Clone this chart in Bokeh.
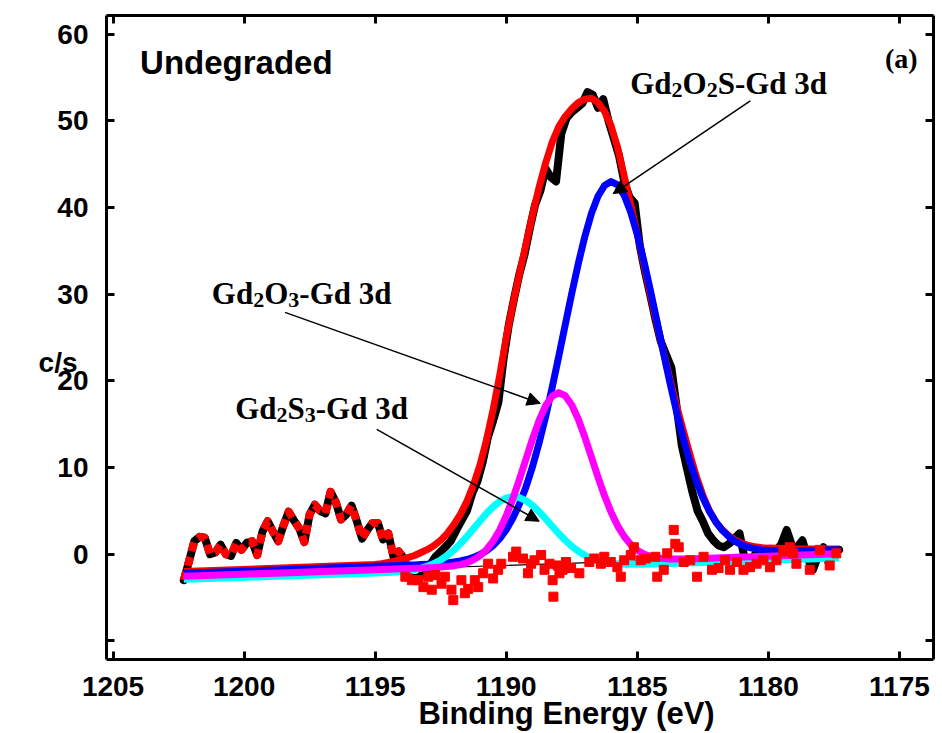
from bokeh.plotting import figure
from bokeh.models import Range1d, LinearAxis, FixedTicker, Label, Arrow, NormalHead
from bokeh.embed import file_html
from bokeh.resources import INLINE

# ---- Gd 3d XPS spectrum (undegraded sample) ----
energy = [
    1202.3, 1202.1, 1201.9, 1201.7, 1201.5, 1201.3, 1201.1, 1200.9, 1200.7, 1200.5,
    1200.3, 1200.1, 1199.9, 1199.7, 1199.5, 1199.3, 1199.1, 1198.9, 1198.7, 1198.5,
    1198.3, 1198.1, 1197.9, 1197.7, 1197.5, 1197.3, 1197.1, 1196.9, 1196.7, 1196.5,
    1196.3, 1196.1, 1195.9, 1195.7, 1195.5, 1195.3, 1195.1, 1194.9, 1194.7, 1194.5,
    1194.3, 1194.1, 1193.9, 1193.7, 1193.5, 1193.3, 1193.1, 1192.9, 1192.7, 1192.5,
    1192.3, 1192.1, 1191.9, 1191.7, 1191.5, 1191.3, 1191.1, 1190.9, 1190.7, 1190.5,
    1190.3, 1190.1, 1189.9, 1189.7, 1189.5, 1189.3, 1189.1, 1188.9, 1188.7, 1188.5,
    1188.3, 1188.1, 1187.9, 1187.7, 1187.5, 1187.3, 1187.1, 1186.9, 1186.7, 1186.5,
    1186.3, 1186.1, 1185.9, 1185.7, 1185.5, 1185.3, 1185.1, 1184.9, 1184.7, 1184.5,
    1184.3, 1184.1, 1183.9, 1183.7, 1183.5, 1183.3, 1183.1, 1182.9, 1182.7, 1182.5,
    1182.3, 1182.1, 1181.9, 1181.7, 1181.5, 1181.3, 1181.1, 1180.9, 1180.7, 1180.5,
    1180.3, 1180.1, 1179.9, 1179.7, 1179.5, 1179.3, 1179.1, 1178.9, 1178.7, 1178.5,
    1178.3, 1178.1, 1177.9, 1177.7, 1177.5, 1177.3,
]
counts = [
    -3.0, -0.8, 1.5, 2.0, 1.9, 0.0, 0.2, 1.1, 0.0, -0.2,
    1.3, 0.5, 1.3, 1.5, -0.1, 2.6, 3.8, 2.6, 1.5, 3.3,
    4.9, 3.9, 3.0, 1.4, 4.6, 5.7, 5.0, 4.7, 7.2, 6.0,
    4.0, 4.6, 5.6, 3.8, 1.8, 2.8, 3.6, 3.6, 1.7, 2.4,
    -0.3, 0.3, -0.5, -2.6, -2.8, -2.6, -2.0, -1.2, -0.3, 0.3,
    0.9, 1.6, 2.8, 3.9, 5.0, 7.0, 8.4, 10.6, 13.5, 15.4,
    17.5, 22.6, 26.5, 29.5, 32.3, 34.6, 37.6, 40.3, 41.9, 44.5,
    43.5, 43.0, 48.5, 50.3, 51.0, 51.5, 52.0, 53.3, 53.0, 51.5,
    52.5, 50.0, 48.0, 46.0, 43.0, 41.2, 40.5, 35.5, 32.5, 29.8,
    27.0, 24.5, 23.0, 21.5, 17.0, 12.5, 9.8, 7.2, 5.0, 3.8,
    2.4, 1.6, 1.0, 0.8, 1.2, 1.8, 2.4, -0.6, -1.0, 0.0,
    0.6, 0.3, 0.2, 0.4, 1.2, 2.8, 1.0, 0.8, 1.6, -0.5,
    -1.8, -0.2, 0.8, -1.0, 0.2, 0.5,
]

# ---- fitted components on the fit grid ----
fit_energy = [
    1202.3,
    1195.00, 1194.75, 1194.50, 1194.25, 1194.00, 1193.75, 1193.50, 1193.25, 1193.00, 1192.75,
    1192.50, 1192.25, 1192.00, 1191.75, 1191.50, 1191.25, 1191.00, 1190.75, 1190.50, 1190.25,
    1190.00, 1189.75, 1189.50, 1189.25, 1189.00, 1188.75, 1188.50, 1188.25, 1188.00, 1187.75,
    1187.50, 1187.25, 1187.00, 1186.75, 1186.50, 1186.25, 1186.00, 1185.75, 1185.50, 1185.25,
    1185.00, 1184.75, 1184.50, 1184.25, 1184.00, 1183.75, 1183.50, 1183.25, 1183.00, 1182.75,
    1182.50, 1182.25, 1182.00, 1181.75, 1181.50, 1181.25, 1181.00, 1180.75, 1180.50, 1180.25,
    1180.00,
    1179.0, 1177.3,
]
envelope = [
    -2.0,
    -1.2, -1.1, -0.95, -0.8, -0.6, -0.4, -0.15, 0.2, 0.55, 1.0,
    1.6, 2.4, 3.4, 4.6, 6.1, 8.0, 10.3, 13.2, 16.7, 20.6,
    25.0, 28.8, 32.3, 35.7, 39.1, 42.3, 45.1, 47.5, 49.3, 50.5,
    51.4, 52.1, 52.5, 52.6, 52.1, 51.1, 49.4, 46.9, 43.6, 40.3,
    36.9, 33.5, 30.0, 26.6, 23.3, 20.1, 17.1, 14.3, 11.6, 9.0,
    6.8, 5.0, 3.7, 2.8, 2.1, 1.6, 1.25, 1.0, 0.85, 0.75,
    0.7,
    0.62, 0.6,
]
gd2o2s = [
    -2.20,
    -1.40, -1.37, -1.34, -1.32, -1.29, -1.26, -1.24, -1.20, -1.16, -1.11,
    -1.07, -1.00, -0.90, -0.78, -0.61, -0.37, -0.04, 0.40, 1.00, 1.79,
    2.83, 4.14, 5.75, 7.73, 10.08, 12.80, 15.85, 19.21, 22.78, 26.46,
    30.09, 33.55, 36.67, 39.30, 41.29, 42.54, 42.99, 42.60, 41.40, 39.46,
    36.89, 33.83, 30.42, 26.84, 23.22, 19.71, 16.40, 13.40, 10.74, 8.45,
    6.52, 4.96, 3.71, 2.73, 2.00, 1.44, 1.06, 0.79, 0.61, 0.48,
    0.42,
    0.38, 0.55,
]
gd2o3 = [
    -2.55,
    -1.79, -1.76, -1.74, -1.71, -1.69, -1.66, -1.63, -1.61, -1.57, -1.54,
    -1.49, -1.43, -1.34, -1.20, -0.99, -0.65, -0.16, 0.54, 1.52, 2.80,
    4.43, 6.38, 8.59, 10.95, 13.28, 15.41, 17.12, 18.23, 18.64, 18.28,
    17.22, 15.57, 13.49, 11.21, 8.90, 6.74, 4.85, 3.27, 2.04, 1.11,
    0.46, 0.03, -0.26, -0.42, -0.51, -0.55, -0.55, -0.55, -0.53, -0.52,
    -0.49, -0.46, -0.44, -0.41, -0.39, -0.36, -0.33, -0.31, -0.28, -0.26,
    -0.23,
    -0.13, 0.05,
]
gd2s3 = [
    -2.90,
    -2.17, -2.14, -2.10, -2.06, -1.99, -1.90, -1.78, -1.61, -1.38, -1.07,
    -0.67, -0.15, 0.47, 1.22, 2.04, 2.94, 3.84, 4.72, 5.48, 6.09,
    6.48, 6.63, 6.53, 6.18, 5.63, 4.91, 4.09, 3.23, 2.39, 1.61,
    0.91, 0.34, -0.13, -0.48, -0.75, -0.92, -1.05, -1.11, -1.16, -1.17,
    -1.17, -1.16, -1.14, -1.13, -1.10, -1.08, -1.05, -1.03, -1.00, -0.98,
    -0.96, -0.93, -0.91, -0.88, -0.86, -0.83, -0.81, -0.78, -0.76, -0.74,
    -0.71,
    -0.62, -0.45,
]

# ---- fit residuals ----
resid_energy = [
    1193.85, 1193.60, 1193.35, 1193.16, 1192.97, 1192.84, 1192.72, 1192.47, 1192.34, 1192.09,
    1192.02, 1191.71, 1191.58, 1191.45, 1191.20, 1191.07, 1190.88, 1190.69, 1190.50, 1190.31,
    1190.19, 1189.74, 1189.62, 1189.36, 1189.17, 1189.05, 1188.92, 1188.67, 1188.54, 1188.35,
    1188.23, 1188.20, 1188.04, 1187.97, 1187.85, 1187.72, 1187.53, 1187.21, 1186.83, 1186.64,
    1186.39, 1186.26, 1186.01, 1185.76, 1185.63, 1185.50, 1185.25, 1185.13, 1184.87, 1184.68,
    1184.31, 1184.24, 1183.99, 1183.86, 1183.61, 1183.55, 1183.42, 1183.23, 1182.98, 1182.72,
    1182.47, 1182.15, 1181.90, 1181.65, 1181.46, 1181.20, 1180.95, 1180.70, 1180.45, 1180.19,
    1179.94, 1179.69, 1179.43, 1179.18, 1179.05, 1178.93, 1178.42, 1178.04, 1177.66, 1177.41,
]
resid = [
    -2.6, -3.0, -3.0, -3.8, -2.6, -4.1, -2.4, -3.4, -2.6, -4.1,
    -5.3, -3.0, -4.5, -4.0, -3.0, -3.8, -2.2, -1.1, -2.8, -1.8,
    -1.1, -0.3, 0.3, -0.5, -2.2, -1.1, -0.7, -0.1, -1.8, -1.1,
    -3.0, -4.9, -1.3, -2.2, -1.8, -0.9, -1.6, -2.2, -0.9, -0.5,
    -1.1, -0.3, -0.9, -1.5, -2.6, -0.7, -0.1, 0.8, -0.7, -0.5,
    -0.3, -2.6, -1.8, 0.1, 2.8, 1.2, 0.8, -0.9, -0.7, -2.6,
    -0.3, -1.8, -1.6, -0.7, -1.8, -0.9, -1.8, -1.5, -1.1, -0.7,
    -1.5, -0.7, 0.3, 0.8, 0.1, -1.1, -1.8, 0.5, -1.3, 0.1,
]

# background reference line under the fit window
baseline_energy = [1194.0, 1177.3]
baseline = [-1.7, 0.0]

x_ticks = [1205, 1200, 1195, 1190, 1185, 1180, 1175]
y_ticks = [-10, 0, 10, 20, 30, 40, 50, 60]
x_title = "Binding Energy (eV)"
y_title = "c/s"

SANS = "Liberation Sans"
SERIF = "Liberation Serif"

p = figure(
    width=942, height=733,
    x_range=Range1d(1205.25, 1173.7), y_range=Range1d(-12.15, 62.15),
    output_backend="svg", toolbar_location=None,
    min_border_left=106, min_border_right=9, min_border_top=15, min_border_bottom=73,
)
p.xgrid.visible = False
p.ygrid.visible = False
p.outline_line_color = None
p.background_fill_color = "white"
p.border_fill_color = "white"


def style_axis(ax, ticks, show_labels, overrides=None):
    ax.ticker = FixedTicker(ticks=ticks)
    ax.minor_tick_line_color = None
    ax.major_tick_in = 8
    ax.major_tick_out = 0
    ax.major_tick_line_width = 3
    ax.major_tick_line_color = "black"
    ax.axis_line_width = 3
    ax.axis_line_color = "black"
    if show_labels:
        ax.major_label_text_font = SANS
        ax.major_label_text_font_style = "bold"
        ax.major_label_text_font_size = "28px"
        ax.major_label_text_color = "black"
        if overrides:
            ax.major_label_overrides = overrides
    else:
        ax.major_label_overrides = {t: "" for t in ticks}
        ax.major_label_text_font_size = "1px"
        ax.major_label_standoff = 0


style_axis(p.xaxis[0], x_ticks, True)
p.xaxis[0].major_label_standoff = 17
style_axis(p.yaxis[0], y_ticks, True, {-10: ""})
p.yaxis[0].major_label_standoff = 18

top_axis = LinearAxis()
style_axis(top_axis, x_ticks, False)
p.add_layout(top_axis, "above")
right_axis = LinearAxis()
style_axis(right_axis, y_ticks, False)
p.add_layout(right_axis, "right")


def title_axis(pos, text, size, standoff):
    # bare axis whose single tick label serves as the axis title
    ax = LinearAxis(ticker=FixedTicker(ticks=[pos]), major_label_overrides={pos: text})
    ax.axis_line_color = None
    ax.major_tick_line_color = None
    ax.minor_tick_line_color = None
    ax.major_tick_in = 0
    ax.major_tick_out = 0
    ax.major_label_standoff = standoff
    ax.major_label_text_font = SANS
    ax.major_label_text_font_style = "bold"
    ax.major_label_text_font_size = size
    ax.major_label_text_color = "black"
    return ax


p.add_layout(title_axis(1187.7, x_title, "31px", -3), "below")
p.add_layout(title_axis(22.1, y_title, "28px", -23), "left")

# thin background reference
p.line(baseline_energy, baseline, line_color="black", line_width=1.2)

# measured spectrum
p.line(energy, counts, line_color="black", line_width=8, line_join="round", line_cap="round")
left_idx = [i for i, e in enumerate(energy) if e >= 1193.7]
p.line([energy[i] for i in left_idx], [counts[i] for i in left_idx],
       line_color="red", line_width=8, line_dash="9 6", line_join="round")

# fit envelope and components
p.line(fit_energy, envelope, line_color="red", line_width=7, line_join="round")
p.line(fit_energy, gd2o2s, line_color="blue", line_width=7, line_join="round")
p.line(fit_energy, gd2s3, line_color="cyan", line_width=7, line_join="round")
p.line(fit_energy, gd2o3, line_color="magenta", line_width=7, line_join="round")

# residuals
p.scatter(resid_energy, resid, marker="square", size=9, fill_color="red", line_color="red")

# annotations
TIMES_BOLD = {"G": 0.778, "d": 0.556, "O": 0.778, "S": 0.556, "-": 0.333,
              " ": 0.25, "2": 0.5, "3": 0.5}
LIFT = 10  # px


def formula_label(x, y, parts, size=31, sub_size=22):
    off = 0.0
    for text, sub in parts:
        fs = sub_size if sub else size
        p.add_layout(Label(x=x, y=y, x_offset=off, y_offset=LIFT - 6 if sub else LIFT,
                           text=text, text_font=SERIF, text_font_style="bold",
                           text_font_size=f"{fs}px", text_color="black",
                           text_align="left", text_baseline="alphabetic"))
        off += sum(TIMES_BOLD[c] for c in text) * fs


formula_label(1185.27, 53.1, [("Gd", False), ("2", True), ("O", False), ("2", True), ("S-Gd 3d", False)])
formula_label(1201.23, 28.9, [("Gd", False), ("2", True), ("O", False), ("3", True), ("-Gd 3d", False)])
formula_label(1200.34, 15.6, [("Gd", False), ("2", True), ("S", False), ("3", True), ("-Gd 3d", False)])

p.add_layout(Label(x=1175.55, y=56.0, y_offset=LIFT, text="(a)", text_font=SERIF,
                   text_font_style="bold", text_font_size="28px", text_color="black",
                   text_align="left", text_baseline="alphabetic"))
p.add_layout(Label(x=1203.97, y=55.6, y_offset=LIFT, text="Undegraded", text_font=SANS,
                   text_font_style="bold", text_font_size="33px", text_color="black",
                   text_align="left", text_baseline="alphabetic"))

for xs, ys, xe, ye in [(1180.69, 52.3, 1185.92, 41.6),
                       (1198.44, 27.9, 1188.70, 17.4),
                       (1194.94, 14.4, 1188.74, 3.8)]:
    p.add_layout(Arrow(x_start=xs, y_start=ys, x_end=xe, y_end=ye,
                       line_color="black", line_width=1.5,
                       end=NormalHead(size=13, fill_color="black", line_color="black", line_width=1)))

open("out.html", "w").write(file_html(p, INLINE))
